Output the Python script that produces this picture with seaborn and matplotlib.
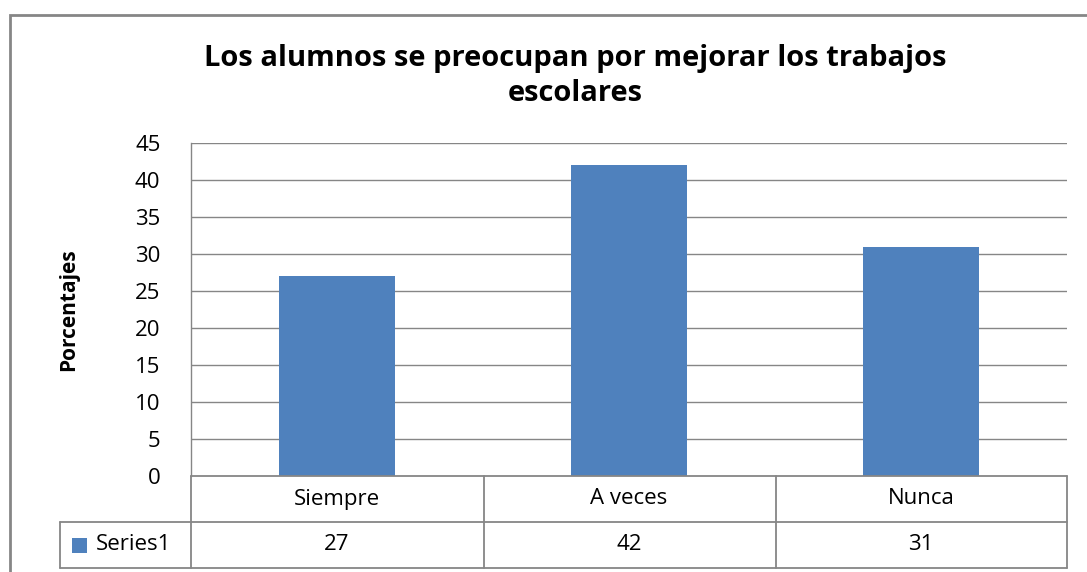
import matplotlib
matplotlib.use("Agg")
import matplotlib.pyplot as plt
import seaborn as sns
import pandas as pd
from matplotlib.lines import Line2D
from matplotlib.patches import Rectangle

# Chart data
categorias = ["Siempre", "A veces", "Nunca"]
valores = [27, 42, 31]
serie = "Series1"
titulo = "Los alumnos se preocupan por mejorar los trabajos\nescolares"
y_ticks = [0, 5, 10, 15, 20, 25, 30, 35, 40, 45]

azul = "#4F81BD"
gris = "#868686"

sns.set_style("white")
plt.rcParams['font.family'] = ['Open Sans', 'DejaVu Sans']
plt.rcParams['text.color'] = 'black'
plt.rcParams['ytick.color'] = 'black'
plt.rcParams['axes.labelcolor'] = 'black'

W, H = 1087, 572
fig = plt.figure(figsize=(W / 100, H / 100), dpi=100)

# plot area (pixel box of the reference)
left, top, right, bottom = 191, 143, 1067, 476
ax = fig.add_axes([left / W, 1 - bottom / H, (right - left) / W, (bottom - top) / H])

df = pd.DataFrame({"categoria": categorias, "valor": valores})
sns.barplot(data=df, x="categoria", y="valor", color=azul, width=0.4,
            saturation=1, linewidth=0, ax=ax)

ax.set_ylim(0, 45)
ax.set_xlim(-0.5, 2.5)
ax.set_yticks(y_ticks)
ax.set_yticklabels([str(t) for t in y_ticks], fontsize=16)
ax.tick_params(axis="y", length=0, pad=22)
ax.set_xticks([])
ax.set_xlabel("")
ax.set_ylabel("Porcentajes", fontsize=15, fontweight="bold", labelpad=40)
for t in y_ticks[1:]:
    ax.axhline(t, color=gris, lw=1, zorder=0)
ax.set_axisbelow(True)
for s in ["top", "right", "bottom"]:
    ax.spines[s].set_visible(False)
ax.spines["left"].set_color(gris)
ax.spines["left"].set_linewidth(1)

fig.text(575 / W, 1 - 76 / H, titulo, ha="center", va="center",
         fontsize=21, fontweight="bold", linespacing=1.3)

# data table below the axis
row1, row2, row3 = 476, 522, 568
x_legend = 60
col_x = [191, 484, 776, 1067]


def hline(y, x0, x1):
    fig.add_artist(Line2D([x0 / W, x1 / W], [1 - y / H, 1 - y / H],
                          color=gris, lw=1.3, transform=fig.transFigure))


def vline(x, y0, y1):
    fig.add_artist(Line2D([x / W, x / W], [1 - y0 / H, 1 - y1 / H],
                          color=gris, lw=1.3, transform=fig.transFigure))


hline(row1, col_x[0], col_x[-1])
hline(row2, x_legend, col_x[-1])
hline(row3, x_legend, col_x[-1])
for cx in col_x:
    vline(cx, row1, row3)
vline(x_legend, row2, row3)

tr = ax.get_xaxis_transform()
axh = bottom - top
for i, (c, v) in enumerate(zip(categorias, valores)):
    ax.text(i, -((row1 + row2) / 2 - bottom) / axh, c, transform=tr,
            ha="center", va="center", fontsize=16, clip_on=False)
    ax.text(i, -((row2 + row3) / 2 - bottom) / axh, str(v), transform=tr,
            ha="center", va="center", fontsize=16, clip_on=False)

fig.add_artist(Rectangle((72 / W, 1 - 553 / H), 15 / W, 15 / H,
                         facecolor=azul, edgecolor="none", transform=fig.transFigure))
fig.text(96 / W, 1 - 545 / H, serie, ha="left", va="center", fontsize=16)

# outer chart frame
fig.add_artist(Rectangle((10 / W, -0.05), 1.2, 1 - 15 / H + 0.05, fill=False,
                         edgecolor=gris, lw=2, transform=fig.transFigure))

fig.savefig("out.png", dpi=100)
